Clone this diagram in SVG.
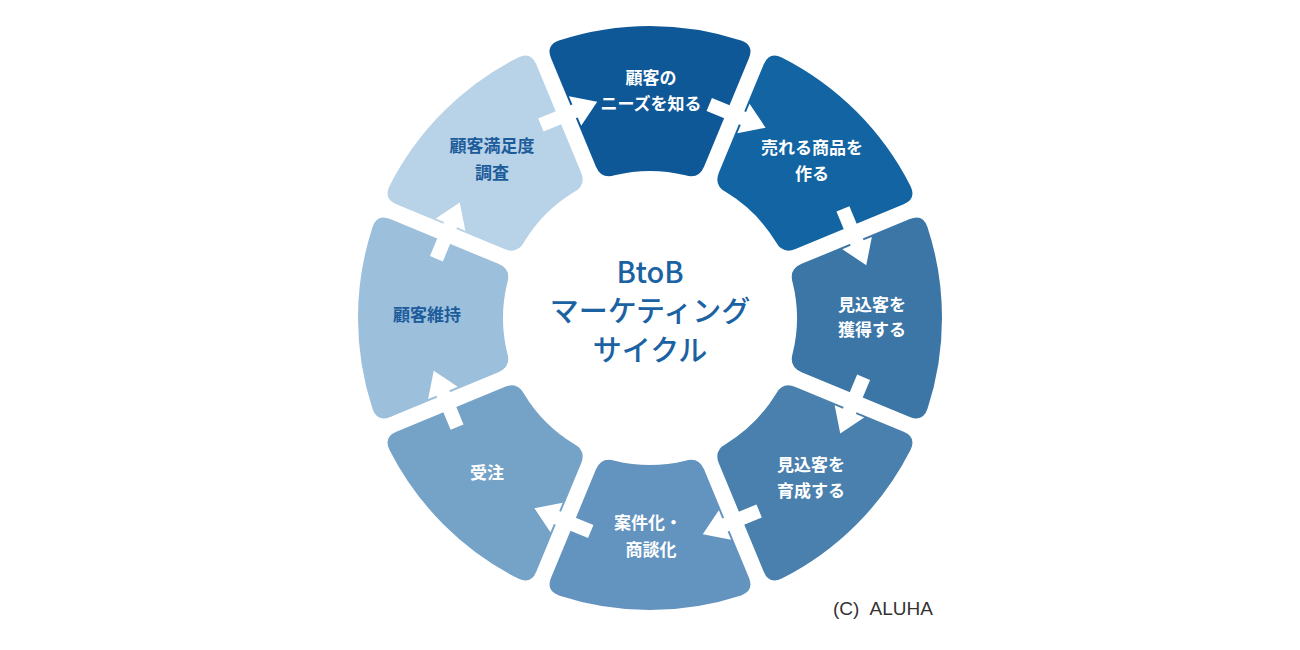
<svg xmlns="http://www.w3.org/2000/svg" xmlns:xlink="http://www.w3.org/1999/xlink" width="1300" height="650" viewBox="0 0 1300 650">
<style>
.lbl{font-family:"Noto Sans CJK JP","Noto Sans",sans-serif;font-size:17px;font-weight:700;text-anchor:middle;fill:#ffffff}
.dk{fill:#1d5c9b}
.ctr{font-family:"Noto Sans CJK JP","Noto Sans",sans-serif;font-size:29px;font-weight:500;text-anchor:middle;fill:#1b62a3}
.arr{fill:#ffffff}
.copy{font-family:"Liberation Sans","Noto Sans CJK JP",sans-serif;font-size:19px;fill:#333333;word-spacing:6px}
</style>
<defs>
<path id="seg" d="M -91.10,-277.43 A 292 292 0 0 1 91.10,-277.43 Q 104.31,-272.73 98.95,-259.80 L 54.14,-151.60 Q 48.78,-138.67 35.36,-142.68 A 147 147 0 0 0 -35.36,-142.68 Q -48.78,-138.67 -54.14,-151.60 L -98.95,-259.80 Q -104.31,-272.73 -91.10,-277.43 Z"/>
<polygon id="arrow" points="-27,-7 10,-7 10,-16 34,0 10,16 10,7 -27,7"/>
</defs>
<rect width="1300" height="650" fill="#ffffff"/>
<g id="n1">
<use xlink:href="#seg" transform="translate(650 318)" fill="#0f5898"/>
<text class="lbl" x="651" y="84">顧客の</text>
<text class="lbl" x="651" y="110">ニーズを知る</text>
</g>
<g id="n2">
<use xlink:href="#seg" transform="translate(650 318) rotate(45)" fill="#1265a2"/>
<text class="lbl" x="812" y="154">売れる商品を</text>
<text class="lbl" x="812" y="180">作る</text>
</g>
<g id="n3">
<use xlink:href="#seg" transform="translate(650 318) rotate(90)" fill="#3b76a6"/>
<text class="lbl" x="872" y="311">見込客を</text>
<text class="lbl" x="872" y="336">獲得する</text>
</g>
<g id="n4">
<use xlink:href="#seg" transform="translate(650 318) rotate(135)" fill="#4a80ad"/>
<text class="lbl" x="811" y="471">見込客を</text>
<text class="lbl" x="811" y="497">育成する</text>
</g>
<g id="n5">
<use xlink:href="#seg" transform="translate(650 318) rotate(180)" fill="#6393bf"/>
<text class="lbl" x="648" y="529">案件化・</text>
<text class="lbl" x="651" y="556">商談化</text>
</g>
<g id="n6">
<use xlink:href="#seg" transform="translate(650 318) rotate(225)" fill="#75a2c7"/>
<text class="lbl" x="487" y="479">受注</text>
</g>
<g id="n7">
<use xlink:href="#seg" transform="translate(650 318) rotate(270)" fill="#9cbfdb"/>
<text class="lbl dk" x="427" y="321">顧客維持</text>
</g>
<g id="n8">
<use xlink:href="#seg" transform="translate(650 318) rotate(315)" fill="#b8d2e7"/>
<text class="lbl dk" x="492" y="152">顧客満足度</text>
<text class="lbl dk" x="492" y="179">調査</text>
</g>
<g id="connectors">
<use xlink:href="#arrow" class="arr" transform="translate(650 318) rotate(-67.5) translate(220 0) rotate(90)"/>
<use xlink:href="#arrow" class="arr" transform="translate(650 318) rotate(-22.5) translate(220 0) rotate(90)"/>
<use xlink:href="#arrow" class="arr" transform="translate(650 318) rotate(22.5) translate(220 0) rotate(90)"/>
<use xlink:href="#arrow" class="arr" transform="translate(650 318) rotate(67.5) translate(220 0) rotate(90)"/>
<use xlink:href="#arrow" class="arr" transform="translate(650 318) rotate(112.5) translate(220 0) rotate(90)"/>
<use xlink:href="#arrow" class="arr" transform="translate(650 318) rotate(157.5) translate(220 0) rotate(90)"/>
<use xlink:href="#arrow" class="arr" transform="translate(650 318) rotate(202.5) translate(220 0) rotate(90)"/>
<use xlink:href="#arrow" class="arr" transform="translate(650 318) rotate(247.5) translate(220 0) rotate(90)"/>
</g>
<g id="center">
<text class="ctr" x="650" y="283">BtoB</text>
<text class="ctr" x="650" y="322">マーケティング</text>
<text class="ctr" x="650" y="361">サイクル</text>
</g>
<text class="copy" x="833" y="615">(C) ALUHA</text>
</svg>
